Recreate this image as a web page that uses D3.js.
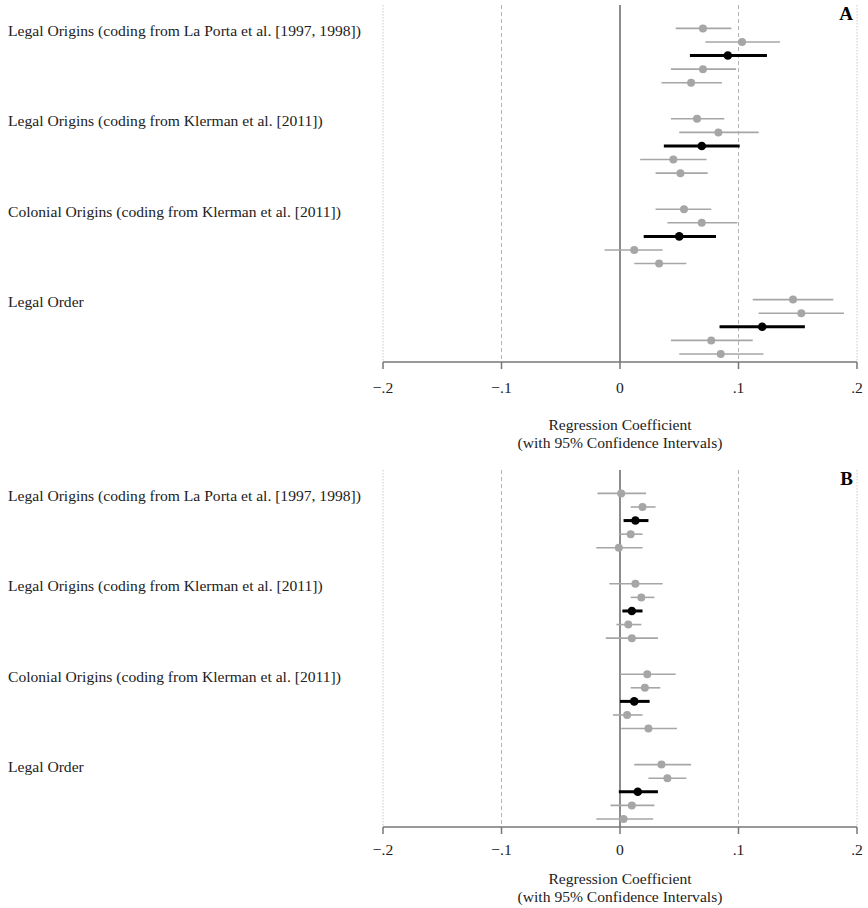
<!DOCTYPE html>
<html>
<head>
<meta charset="utf-8">
<script src="https://cdn.jsdelivr.net/npm/d3@7"></script>
<style>
  body { margin: 0; background: #fff; }
  text { font-family: "Liberation Serif", "Times New Roman", serif; fill: #222; }
</style>
</head>
<body>
<script>
// Group labels (same in both panels)
const groupLabels = [
    "Legal Origins (coding from La Porta et al. [1997, 1998])",
    "Legal Origins (coding from Klerman et al. [2011])",
    "Colonial Origins (coding from Klerman et al. [2011])",
    "Legal Order"
];

// Which row of each group is the highlighted (black) estimate
const mainRow = 2;

// Panel A: point estimates and 95% CI bounds, 4 groups x 5 rows
const estA = [
    [0.070, 0.103, 0.091, 0.070, 0.060],
    [0.065, 0.083, 0.069, 0.045, 0.051],
    [0.054, 0.069, 0.050, 0.012, 0.033],
    [0.146, 0.153, 0.120, 0.077, 0.085]
];
const loA = [
    [0.047, 0.072, 0.059, 0.043, 0.035],
    [0.043, 0.050, 0.037, 0.017, 0.030],
    [0.030, 0.040, 0.020, -0.013, 0.012],
    [0.112, 0.117, 0.084, 0.043, 0.050]
];
const hiA = [
    [0.094, 0.135, 0.124, 0.098, 0.086],
    [0.088, 0.117, 0.101, 0.073, 0.074],
    [0.077, 0.099, 0.081, 0.036, 0.056],
    [0.180, 0.189, 0.156, 0.112, 0.121]
];

// Panel B
const estB = [
    [0.001, 0.019, 0.013, 0.009, -0.001],
    [0.013, 0.018, 0.010, 0.007, 0.010],
    [0.023, 0.021, 0.012, 0.006, 0.024],
    [0.035, 0.040, 0.015, 0.010, 0.003]
];
const loB = [
    [-0.019, 0.009, 0.003, -0.001, -0.020],
    [-0.009, 0.009, 0.002, -0.003, -0.012],
    [0.000, 0.009, 0.000, -0.006, 0.001],
    [0.012, 0.024, -0.001, -0.008, -0.020]
];
const hiB = [
    [0.022, 0.030, 0.024, 0.019, 0.019],
    [0.036, 0.029, 0.019, 0.018, 0.032],
    [0.047, 0.034, 0.025, 0.019, 0.048],
    [0.060, 0.056, 0.032, 0.029, 0.028]
];

const xTicks = [-0.2, -0.1, 0, 0.1, 0.2];
const xTickLabels = ["\u2212.2", "\u2212.1", "0", ".1", ".2"];
const axisTitle = ["Regression Coefficient", "(with 95% Confidence Intervals)"];

const W = 868, H = 908;
const fs = 15.6;
const svg = d3.select("body").append("svg")
    .attr("width", W)
    .attr("height", H);

const x = d3.scaleLinear().domain([-0.2, 0.2]).range([383, 857]);

// row position: groups are 6.65 rows apart
const groupStep = 6.65;
const y = d3.scaleLinear().domain([-1.72, 24.54]).range([5, 362]);

function drawPanel(offsetY, letter, est, lo, hi, tickDy, titleDy) {
    const g = svg.append("g").attr("transform", `translate(0,${offsetY})`);

    const rows = [];
    est.forEach((grp, gi) => grp.forEach((v, ri) => {
        rows.push({ pos: gi * groupStep + ri, est: v, lo: lo[gi][ri], hi: hi[gi][ri], main: ri === mainRow });
    }));

    // vertical reference lines
    g.selectAll(".grid")
        .data(xTicks.filter(t => t !== 0))
        .enter().append("line")
        .attr("x1", d => x(d)).attr("x2", d => x(d))
        .attr("y1", y.range()[0]).attr("y2", y.range()[1])
        .attr("stroke", d => Math.abs(d) > 0.15 ? "#c8c8c8" : "#b4b4b4")
        .attr("stroke-width", 1)
        .attr("stroke-dasharray", d => Math.abs(d) > 0.15 ? "1.5,1.5" : "4,3");

    // zero line
    g.append("line")
        .attr("x1", x(0)).attr("x2", x(0))
        .attr("y1", y.range()[0]).attr("y2", y.range()[1])
        .attr("stroke", "#666").attr("stroke-width", 1.5);

    // group labels
    g.selectAll(".glabel")
        .data(groupLabels)
        .enter().append("text")
        .attr("x", 8)
        .attr("y", (d, i) => y(i * groupStep) + 7.5)
        .attr("font-size", fs)
        .text(d => d);

    // confidence intervals
    g.selectAll(".ci")
        .data(rows)
        .enter().append("line")
        .attr("x1", d => x(d.lo)).attr("x2", d => x(d.hi))
        .attr("y1", d => y(d.pos)).attr("y2", d => y(d.pos))
        .attr("stroke", d => d.main ? "#000" : "#a6a6a6")
        .attr("stroke-width", d => d.main ? 3 : 1.6);

    // point estimates
    g.selectAll(".pt")
        .data(rows)
        .enter().append("circle")
        .attr("cx", d => x(d.est))
        .attr("cy", d => y(d.pos))
        .attr("r", d => d.main ? 4.3 : 4)
        .attr("fill", d => d.main ? "#000" : "#a6a6a6");

    // x axis
    const axisY = y.range()[1];
    g.append("line")
        .attr("x1", x(-0.2)).attr("x2", x(0.2))
        .attr("y1", axisY).attr("y2", axisY)
        .attr("stroke", "#777").attr("stroke-width", 1.5);

    g.selectAll(".tick")
        .data(xTicks)
        .enter().append("line")
        .attr("x1", d => x(d)).attr("x2", d => x(d))
        .attr("y1", axisY).attr("y2", axisY + 7)
        .attr("stroke", "#777").attr("stroke-width", 1.5);

    g.selectAll(".ticklabel")
        .data(xTicks)
        .enter().append("text")
        .attr("x", d => x(d))
        .attr("y", axisY + tickDy)
        .attr("text-anchor", "middle")
        .attr("font-size", fs)
        .text((d, i) => xTickLabels[i]);

    g.selectAll(".atitle")
        .data(axisTitle)
        .enter().append("text")
        .attr("x", (x(-0.2) + x(0.2)) / 2)
        .attr("y", (d, i) => axisY + titleDy + i * 17.5)
        .attr("text-anchor", "middle")
        .attr("font-size", fs)
        .text(d => d);

    // panel letter
    g.append("text")
        .attr("x", 853)
        .attr("y", 20)
        .attr("text-anchor", "end")
        .attr("font-size", 19)
        .attr("font-weight", "bold")
        .style("fill", "#000")
        .text(letter);
}

drawPanel(0, "A", estA, loA, hiA, 31, 68);
drawPanel(465, "B", estB, loB, hiB, 28, 57);
</script>
</body>
</html>
